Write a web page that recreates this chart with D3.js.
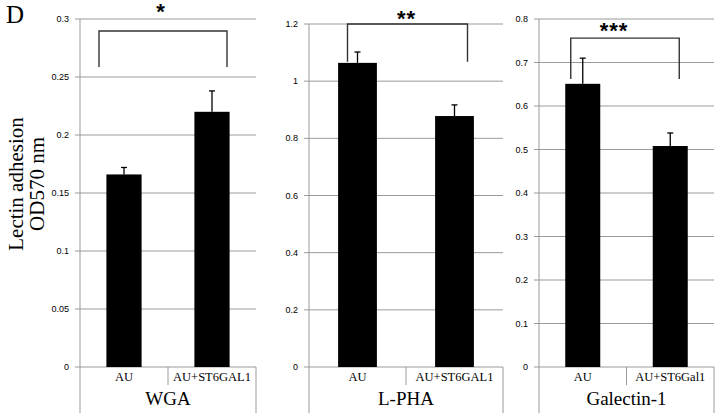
<!DOCTYPE html>
<html>
<head>
<meta charset="utf-8">
<script src="https://cdn.jsdelivr.net/npm/d3@7"></script>
<style>
  body { margin: 0; background: #fff; }
  svg { display: block; }
</style>
</head>
<body>
<svg id="chart"></svg>
<script>
// values
const panelNames = ["WGA", "L-PHA", "Galectin-1"];
const categories = [
  ["AU", "AU+ST6GAL1"],
  ["AU", "AU+ST6GAL1"],
  ["AU", "AU+ST6Gal1"]
];
const means = [
  [0.166, 0.220],
  [1.064, 0.878],
  [0.651, 0.508]
];
const errors = [
  [0.006, 0.018],
  [0.038, 0.039],
  [0.059, 0.030]
];
const yMax = [0.3, 1.2, 0.8];
const yStep = [0.05, 0.2, 0.1];
const stars = ["*", "**", "***"];
// significance bracket: top and leg bottom in data units
const bracketTop = [0.2897, 1.2, 0.756];
const bracketLeg = [0.2586, 1.068, 0.662];

// layout
const W = 720, H = 413;
const bottom = 367;
const frames = [
  { left: 80, right: 256, top: 19, bx0: -25, bx1: 15, starDx: -2, starY: 11 },
  { left: 309, right: 503, top: 24, bx0: -10, bx1: 13, starDx: -1, starY: 18 },
  { left: 539, right: 714, top: 19, bx0: -12, bx1: 9, starDx: -11, starY: 30 }
];

const svg = d3.select("#chart").attr("width", W).attr("height", H);
const serif = "'Liberation Serif', 'Times New Roman', serif";
const sans = "'Liberation Sans', Arial, sans-serif";

svg.append("text")
  .attr("x", 6).attr("y", 23)
  .attr("font-family", serif).attr("font-size", 25)
  .text("D");

const yTitle = svg.append("g").attr("transform", "translate(0,184) rotate(-90)");
yTitle.append("text").attr("x", 0).attr("y", 23)
  .attr("text-anchor", "middle").attr("font-family", serif).attr("font-size", 21)
  .text("Lectin adhesion");
yTitle.append("text").attr("x", 0).attr("y", 44)
  .attr("text-anchor", "middle").attr("font-family", serif).attr("font-size", 21)
  .text("OD570 nm");

panelNames.forEach((name, i) => {
  const f = frames[i];
  const g = svg.append("g");

  const x = d3.scaleBand().domain(categories[i]).range([f.left, f.right]).paddingInner(0).paddingOuter(0);
  const y = d3.scaleLinear().domain([0, yMax[i]]).range([bottom, f.top]);
  const ticks = d3.range(0, yMax[i] + yStep[i] / 2, yStep[i]).map(v => +v.toFixed(3));

  // gridlines with short ticks
  g.selectAll(".grid").data(ticks).join("line")
    .attr("x1", f.left - 5).attr("x2", f.right)
    .attr("y1", d => y(d)).attr("y2", d => y(d))
    .attr("stroke", "#9a9a9a").attr("stroke-width", 1);

  g.selectAll(".tl").data(ticks).join("text")
    .attr("x", f.left - 11).attr("y", d => y(d) + 3)
    .attr("text-anchor", "end")
    .attr("font-family", sans).attr("font-size", 9)
    .text(d => String(d));

  // axis frame
  g.append("line").attr("x1", f.left).attr("x2", f.left).attr("y1", f.top).attr("y2", H)
    .attr("stroke", "#9a9a9a");
  g.append("line").attr("x1", f.right).attr("x2", f.right).attr("y1", bottom).attr("y2", H)
    .attr("stroke", "#9a9a9a");
  g.append("line").attr("x1", f.left + x.bandwidth()).attr("x2", f.left + x.bandwidth())
    .attr("y1", bottom).attr("y2", 385).attr("stroke", "#9a9a9a");

  const bw = x.bandwidth() * 0.4;
  const cx = d => x(d) + x.bandwidth() / 2;

  g.selectAll(".bar").data(categories[i]).join("rect")
    .attr("x", d => cx(d) - bw / 2)
    .attr("width", bw)
    .attr("y", (d, j) => y(means[i][j]))
    .attr("height", (d, j) => bottom - y(means[i][j]))
    .attr("fill", "#000");

  // error bars (upper only)
  g.selectAll(".err").data(categories[i]).join("line")
    .attr("x1", d => cx(d)).attr("x2", d => cx(d))
    .attr("y1", (d, j) => y(means[i][j]))
    .attr("y2", (d, j) => y(means[i][j] + errors[i][j]))
    .attr("stroke", "#000").attr("stroke-width", 1.3);
  g.selectAll(".cap").data(categories[i]).join("line")
    .attr("x1", d => cx(d) - 3).attr("x2", d => cx(d) + 3)
    .attr("y1", (d, j) => y(means[i][j] + errors[i][j]))
    .attr("y2", (d, j) => y(means[i][j] + errors[i][j]))
    .attr("stroke", "#000").attr("stroke-width", 1.3);

  // category labels
  g.selectAll(".cl").data(categories[i]).join("text")
    .attr("x", d => cx(d)).attr("y", 381)
    .attr("text-anchor", "middle")
    .attr("font-family", serif).attr("font-size", 12.5)
    .text(d => d);

  g.append("text")
    .attr("x", (f.left + f.right) / 2).attr("y", 405)
    .attr("text-anchor", "middle")
    .attr("font-family", serif).attr("font-size", 19)
    .text(name);

  // significance bracket
  const bx0 = cx(categories[i][0]) + f.bx0;
  const bx1 = cx(categories[i][1]) + f.bx1;
  g.append("path")
    .attr("d", `M${bx0},${y(bracketLeg[i])}V${y(bracketTop[i])}H${bx1}V${y(bracketLeg[i])}`)
    .attr("fill", "none").attr("stroke", "#333").attr("stroke-width", 1.4);

  g.append("text")
    .attr("x", (bx0 + bx1) / 2 + f.starDx).attr("y", f.starY + 8)
    .attr("text-anchor", "middle")
    .attr("font-family", sans).attr("font-weight", "bold").attr("font-size", 22)
    .attr("letter-spacing", 1)
    .text(stars[i]);
});
</script>
</body>
</html>
